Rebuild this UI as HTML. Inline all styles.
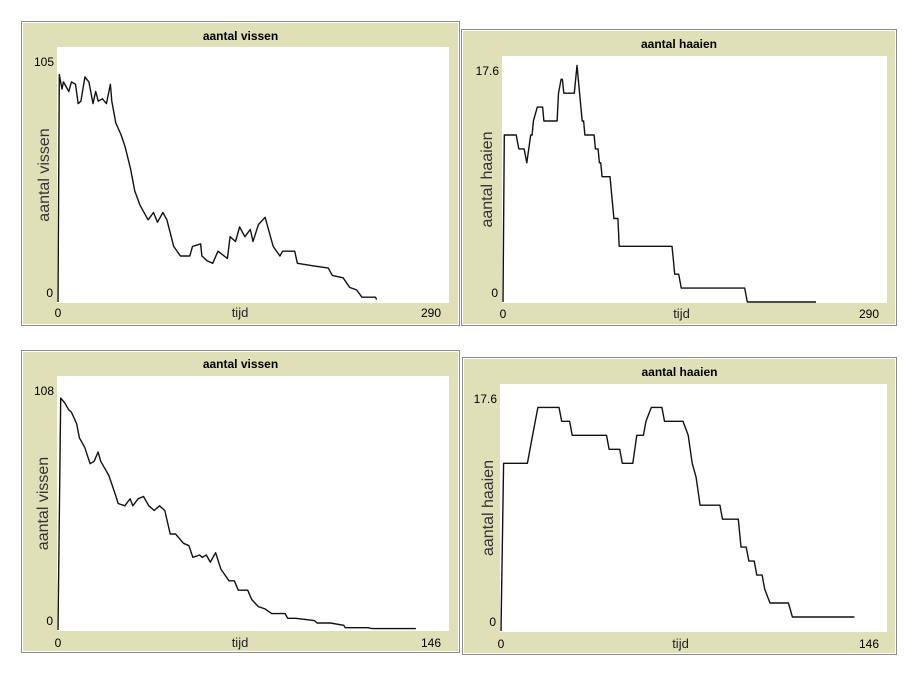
<!DOCTYPE html>
<html><head><meta charset="utf-8">
<style>
html,body{margin:0;padding:0;background:#fff;width:912px;height:675px;overflow:hidden;font-family:"Liberation Sans",sans-serif;}
svg{position:absolute;left:0;top:0;}
</style></head>
<body>
<svg id="chart" width="912" height="675"></svg>
<script>
// ---- data: top-left "aantal vissen" run 1 ----
const fish1Times = [0,1,3,4,8,10,13,15,17,20,23,26,28,30,33,36,39,40,43,47,50,54,57,61,67,71,74,78,81,86,91,98,100,106,107,111,115,119,126,128,132,135,139,143,145,149,154,160,165,167,176,178,189,201,204,212,217,222,226,236,237];
const fish1Values = [0,94,88,91,87,91,90,82,83,93,91,82,87,83,84,82,90,83,74,69,64,55,46,40,34,37,33,37,34,23,19,19,23,24,19,17,16,21,18,27,25,31,27,30,25,32,35,23,19,21,21,16,15,14,11,10,6,5,2,2,1];
// ---- data: top-right "aantal haaien" run 1 ----
const shark1Times = [0,1,10,12,16,18,21,22,23,26,30,31,41,42,44,45,46,54,56,58,60,61,62,69,70,72,73,74,75,81,84,87,88,128,129,130,133,135,183,185,237];
const shark1Values = [0,12,12,11,11,10,12,12,13,14,14,13,13,15,16,16,15,15,17,15,13,13,12,12,11,11,10,10,9,9,6,6,4,4,3,2,2,1,1,0,0];
// ---- data: bottom-left "aantal vissen" run 2 ----
const fish2Times = [0,1,2.5,4,5,7,8,10,12,13.5,15,16,18,19,22,22.5,25,27,28,30,32,34,36,38,40,42,44,47,49,50.5,53,54,55.5,57,59,61,64,66,67.5,71,72.5,75,77.5,80,85,86,89,96,97,102,107,107.5,116,117.5,134];
const fish2Values = [0,99,97,94,93,88,82,78,71,72,76,72,68,66,56,54,53,56,53,56,57,53,51,53,51,41,41,37,36,31,32,31,32,29,33,26,21,21,17,17,13,10,9,7,7,5,5,4,3,3,2,1,1,0.6,0.6];
// ---- data: bottom-right "aantal haaien" run 2 ----
const shark2Times = [0,1,10,12,14,22,23,26,27,40,41,45,46,50,51.5,54,55,57,61,62,69,71,72.5,74,75.5,83,84,90,91,93,94,96,97,99,100,102,109,110.5,134];
const shark2Values = [0,12,12,14,16,16,15,15,14,14,13,13,12,12,14,14,15,16,16,15,15,14,12,11,9,9,8,8,6,6,5,5,4,4,3,2,2,1,1];

const yMaxLabels = ["105","17.6","108","17.6"];
const xMaxLabels = ["290","290","146","146"];
const yMaxValues = [105,17.6,108,17.6];
const xMaxValues = [290,290,146,146];
const titles = ["aantal vissen","aantal haaien","aantal vissen","aantal haaien"];

const NS="http://www.w3.org/2000/svg";
const svg=document.getElementById('chart');
function mk(tag,attrs,parent){const e=document.createElementNS(NS,tag);for(const k in attrs)e.setAttribute(k,attrs[k]);(parent||svg).appendChild(e);return e;}

const panels=[
 {key:'top-left',ox:21,oy:21,ow:439,oh:305,px:57,py:47,pw:392,ph:256,ttlY:40,tickY:317,yTitleX:49,times:fish1Times,vals:fish1Values,i:0},
 {key:'top-right',ox:461,oy:29,ow:436,oh:297,px:502,py:56,pw:385,ph:247,ttlY:48,tickY:318,yTitleX:492,times:shark1Times,vals:shark1Values,i:1},
 {key:'bottom-left',ox:21,oy:350,ow:439,oh:303,px:57,py:376,pw:392,ph:255,ttlY:368,tickY:647,yTitleX:48,times:fish2Times,vals:fish2Values,i:2},
 {key:'bottom-right',ox:462,oy:357,ow:435,oh:298,px:500,py:384,pw:387,ph:248,ttlY:376,tickY:648,yTitleX:493,times:shark2Times,vals:shark2Values,i:3}
];

panels.forEach(p=>{
  const g=mk('g',{});
  
  
  const frame=mk('rect',{x:p.ox+0.5,y:p.oy+0.5,width:p.ow-1,height:p.oh-1,fill:'#dfdfb8',stroke:'#8c8c8c','stroke-width':1},g);
  
  
  mk('rect',{x:p.ox+1.5,y:p.oy+1.5,width:p.ow-3,height:p.oh-3,fill:'none',stroke:'#ffffff','stroke-width':1},g);
  const area=mk('rect',{x:p.px,y:p.py,width:p.pw,height:p.ph,fill:'#ffffff'},g);
  
  
  const t=mk('text',{x:p.ox+p.ow/2,y:p.ttlY,'text-anchor':'middle','font-size':'12','font-weight':'bold',fill:'#000'},g);
  t.textContent=titles[p.i];
  
  
  const xs=v=>p.px+1+v/xMaxValues[p.i]*(p.pw-2);
  const ys=v=>p.py+p.ph-1-v/yMaxValues[p.i]*(p.ph-2);
  // y tick labels
  const yl=mk('text',{x:p.px-3,y:p.py+19,'text-anchor':'end','font-size':'12',fill:'#000'},g);
  yl.textContent=yMaxLabels[p.i];
  
  
  const y0=mk('text',{x:p.px-4,y:p.py+p.ph-6,'text-anchor':'end','font-size':'12',fill:'#000'},g);
  y0.textContent='0';
  
  
  const x0=mk('text',{x:p.px+1,y:p.tickY,'text-anchor':'middle','font-size':'12',fill:'#000'},g);
  x0.textContent='0';
  
  
  const xm=mk('text',{x:p.px+p.pw-8,y:p.tickY,'text-anchor':'end','font-size':'12',fill:'#000'},g);
  xm.textContent=xMaxLabels[p.i];
  
  
  const xt=mk('text',{x:p.px+p.pw/2-13,y:p.tickY,'text-anchor':'middle','font-size':'13',fill:'#222'},g);
  xt.textContent='tijd';
  
  
  const cy=p.py+p.ph/2;
  const yt=mk('text',{x:p.yTitleX,y:cy,'text-anchor':'middle','font-size':'16',fill:'#333',transform:`rotate(-90 ${p.yTitleX} ${cy})`},g);
  yt.textContent=titles[p.i];
  
  
  const pts=p.times.map((tm,k)=>xs(tm).toFixed(1)+','+ys(p.vals[k]).toFixed(1)).join(' ');
  const line=mk('polyline',{points:pts,fill:'none',stroke:'#111','stroke-width':1.4,'stroke-linejoin':'round'},g);
  
  
});
</script>
</body></html>
